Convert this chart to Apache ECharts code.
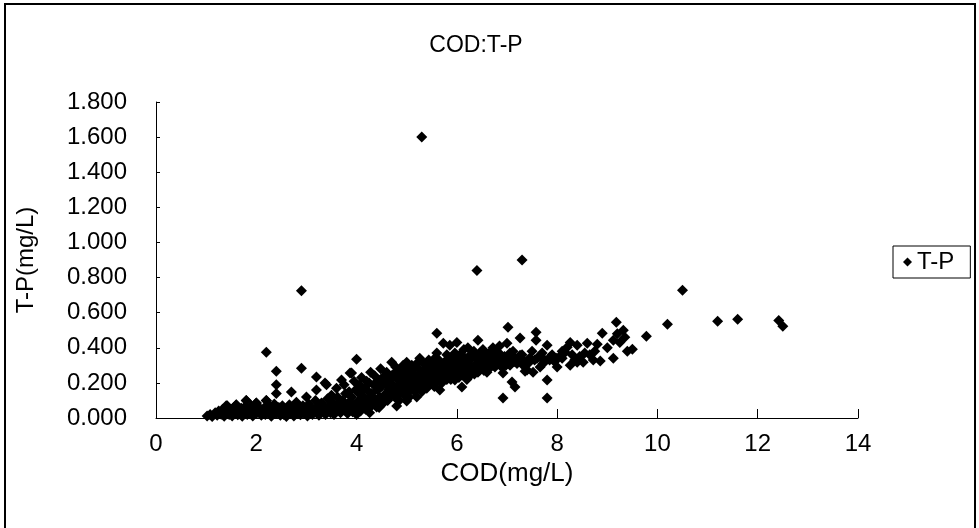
<!DOCTYPE html>
<html>
<head>
<meta charset="utf-8">
<script src="https://cdn.jsdelivr.net/npm/echarts@6/dist/echarts.min.js"></script>
<style>
html,body{margin:0;padding:0;background:#fff;}
#chart{width:979px;height:528px;}
</style>
</head>
<body>
<div id="chart"></div>
<script>
var titleText = 'COD:T-P';
var seriesName = 'T-P';
var xName = 'COD(mg/L)';
var yName = 'T-P(mg/L)';
var xTicks = [0, 2, 4, 6, 8, 10, 12, 14];
var yTicks = [0, 0.2, 0.4, 0.6, 0.8, 1.0, 1.2, 1.4, 1.6, 1.8];

// [COD, T-P] pairs
var lowBand = [
 [1.02,0.012],[1.08,0.02],[1.12,0.008],[1.18,0.03],[1.22,0.015],[1.25,0.04],[1.3,0.022],[1.33,0.05],[1.36,0.01],[1.4,0.035],
 [1.42,0.07],[1.46,0.02],[1.5,0.045],[1.52,0.012],[1.55,0.06],[1.58,0.03],[1.6,0.075],[1.63,0.018],[1.66,0.042],[1.7,0.055],
 [1.72,0.01],[1.75,0.03],[1.78,0.065],[1.8,0.1],[1.82,0.02],[1.85,0.045],[1.88,0.035],[1.9,0.07],[1.93,0.012],[1.96,0.05],
 [2.0,0.085],[2.0,0.025],[2.03,0.04],[2.06,0.06],[2.1,0.015],[2.12,0.035],[2.15,0.055],[2.18,0.02],[2.2,0.1],[2.22,0.045],
 [2.25,0.03],[2.28,0.065],[2.3,0.01],[2.33,0.05],[2.36,0.08],[2.4,0.025],[2.42,0.045],[2.45,0.06],[2.48,0.015],
 [2.5,0.035],[2.52,0.07],[2.55,0.02],[2.58,0.05],[2.6,0.008],[2.63,0.04],[2.66,0.075],[2.7,0.025],[2.72,0.055],[2.75,0.012],
 [2.78,0.045],[2.8,0.09],[2.82,0.03],[2.85,0.06],[2.88,0.018],[2.9,0.04],[2.93,0.07],[2.96,0.025],[3.0,0.05],[3.02,0.012],
 [3.05,0.08],[3.08,0.035],[3.1,0.06],[3.12,0.02],[3.15,0.045],[3.18,0.1],[3.2,0.03],[3.22,0.065],[3.25,0.015],[3.28,0.05],
 [3.3,0.085],[3.32,0.035],[3.35,0.06],[3.38,0.02],[3.4,0.045],[3.42,0.11],[3.45,0.07],[3.48,0.03],[3.5,0.055],[3.52,0.09],
 [3.55,0.02],[3.58,0.065],[3.6,0.04],[3.62,0.12],[3.65,0.08],[3.68,0.03],[3.7,0.055],[3.72,0.1],[3.75,0.045],[3.78,0.14],
 [3.8,0.07],[3.82,0.025],[3.85,0.09],[3.88,0.05],[3.9,0.12],[3.92,0.035],[3.95,0.075],[3.98,0.16]
];
var lowScatter = [
 [1.4,0.07],[1.6,0.074],[1.8,0.1],[2.0,0.085],[2.2,0.1],[2.2,0.375],[2.4,0.267],[2.4,0.19],[2.4,0.14],[2.7,0.148],
 [2.9,0.284],[3.0,0.12],[3.2,0.233],[3.2,0.16],[3.37,0.2],[3.4,0.19],[3.7,0.216],[3.87,0.256],[3.9,0.256],[4.0,0.335],
 [3.5,0.13],[3.6,0.17],[3.75,0.19],[3.85,0.15],[3.95,0.21]
];
var midBand = [
 [4.0,0.02],[4.02,0.06],[4.04,0.1],[4.05,0.14],[4.06,0.19],[4.08,0.04],[4.1,0.23],[4.12,0.08],[4.14,0.12],[4.16,0.17],
 [4.18,0.05],[4.2,0.21],[4.22,0.1],[4.24,0.15],[4.26,0.03],[4.28,0.26],[4.3,0.07],[4.32,0.12],[4.34,0.19],[4.36,0.24],
 [4.38,0.09],[4.4,0.063],[4.42,0.16],[4.44,0.21],[4.46,0.12],[4.48,0.28],[4.5,0.08],[4.5,0.18],[4.52,0.23],
 [4.55,0.13],[4.58,0.2],[4.6,0.26],[4.62,0.1],[4.64,0.16],[4.66,0.22],[4.7,0.318],[4.7,0.14],[4.72,0.19],[4.74,0.25],
 [4.76,0.12],[4.78,0.29],[4.8,0.068],[4.8,0.17],[4.82,0.22],[4.84,0.27],[4.86,0.14],[4.88,0.2],[4.9,0.24],[4.93,0.3],
 [4.94,0.16],[4.96,0.21],[4.98,0.26],
 [5.0,0.097],[5.0,0.318],[5.0,0.14],[5.02,0.19],[5.04,0.23],[5.06,0.28],[5.08,0.17],[5.1,0.3],[5.12,0.21],[5.14,0.25],
 [5.16,0.15],[5.18,0.29],[5.2,0.12],[5.2,0.2],[5.22,0.24],[5.24,0.28],[5.26,0.17],[5.26,0.34],[5.3,0.22],[5.32,0.26],
 [5.34,0.31],[5.36,0.19],[5.38,0.23],[5.4,0.28],[5.42,0.2],[5.44,0.33],[5.46,0.25],[5.48,0.3],
 [5.5,0.2],[5.52,0.22],[5.54,0.27],[5.56,0.34],[5.58,0.24],[5.6,0.483],[5.6,0.37],[5.6,0.3],[5.62,0.21],[5.64,0.33],
 [5.66,0.16],[5.66,0.26],[5.7,0.29],[5.73,0.426],[5.74,0.23],[5.76,0.32],[5.78,0.27],[5.8,0.36],[5.82,0.24],[5.84,0.3],
 [5.86,0.415],[5.88,0.22],[5.9,0.28],[5.92,0.34],[5.94,0.25],[5.96,0.216],[5.96,0.37],[5.98,0.3],
 [6.0,0.43],[6.0,0.27],[6.02,0.33],[6.04,0.23],[6.06,0.36],[6.08,0.29],[6.1,0.176],[6.12,0.31],[6.14,0.39],[6.16,0.25],
 [6.18,0.34],[6.2,0.28],[6.22,0.4],[6.24,0.3],[6.26,0.24],[6.28,0.36],[6.3,0.358],[6.32,0.27],[6.34,0.38],[6.36,0.3],
 [6.38,0.34],[6.42,0.443],[6.42,0.26],[6.44,0.32],[6.46,0.37],[6.48,0.29],
 [6.5,0.34],[6.52,0.39],[6.54,0.27],[6.56,0.31],[6.58,0.36],[6.6,0.34],[6.62,0.3],[6.64,0.28],[6.66,0.33],[6.72,0.4],
 [6.72,0.3],[6.74,0.36],[6.75,0.38],[6.76,0.29],[6.8,0.375],[6.82,0.33],[6.85,0.41],[6.86,0.3],[6.88,0.35],[6.9,0.318],
 [6.92,0.256],[6.92,0.114],[6.95,0.35],[6.98,0.3]
];
var midFill = [
 [4.1,0.16],[4.15,0.09],[4.25,0.2],[4.3,0.14],[4.35,0.1],[4.45,0.06],[4.55,0.09],[4.6,0.19],[4.65,0.12],[4.7,0.24],
 [4.75,0.17],[4.85,0.1],[4.9,0.2],[4.95,0.13],[5.05,0.12],[5.1,0.24],[5.15,0.19],[5.2,0.31],[5.25,0.22],[5.3,0.15],
 [5.35,0.25],[5.4,0.17],[5.45,0.21],[5.5,0.3],[5.55,0.18],[5.6,0.25],[5.65,0.31],[5.7,0.2],[5.75,0.27],[5.8,0.22],
 [5.85,0.26],[5.9,0.33],[5.95,0.28],[6.05,0.26],[6.1,0.34],[6.15,0.29],[6.2,0.22],[6.25,0.33],[6.3,0.29],[6.35,0.25],
 [6.4,0.31],[6.45,0.27],[6.5,0.3],[6.55,0.35],[6.6,0.26],[6.65,0.37],[6.7,0.32],[6.78,0.33],[6.84,0.37],[6.9,0.29]
];
var highBand = [
 [7.0,0.426],[7.02,0.517],[7.05,0.33],[7.06,0.37],[7.06,0.3],[7.1,0.205],[7.12,0.38],[7.16,0.34],[7.16,0.176],[7.2,0.31],
 [7.26,0.455],[7.26,0.358],[7.3,0.36],[7.35,0.32],[7.36,0.267],[7.4,0.273],[7.45,0.34],[7.5,0.38],[7.52,0.26],[7.58,0.489],
 [7.58,0.443],[7.6,0.34],[7.66,0.29],[7.7,0.37],[7.75,0.33],[7.8,0.415],[7.8,0.216],[7.8,0.114],[7.86,0.347],[7.9,0.36],
 [7.95,0.32],[8.0,0.29],[8.05,0.35],[8.1,0.34],[8.1,0.38],[8.16,0.375],[8.2,0.403],[8.26,0.3],[8.26,0.43],[8.3,0.36],
 [8.35,0.33],[8.4,0.415],[8.4,0.318],[8.45,0.35],[8.52,0.318],[8.55,0.37],[8.6,0.426],[8.65,0.36],[8.72,0.33],[8.75,0.38],
 [8.8,0.42],[8.86,0.324],[8.9,0.483],[9.0,0.4],[9.12,0.443],[9.12,0.34],[9.18,0.545],[9.2,0.48],[9.25,0.43],[9.32,0.5],
 [9.35,0.46],[9.4,0.38],[9.5,0.392],[9.78,0.466],[10.2,0.534],[11.2,0.551],[11.6,0.5625],[12.42,0.555],[12.5,0.523],
 [7.04,0.35],[7.14,0.32],[7.22,0.34],[7.32,0.3],[7.42,0.31],[7.55,0.33],[7.65,0.35],[7.72,0.31],[7.85,0.33],[7.98,0.34]
];
var outliers = [
 [2.9,0.725],[5.3,1.6],[6.4,0.84],[7.3,0.9],[10.5,0.727]
];

var allPoints = lowBand.concat(lowScatter, midBand, midFill, highBand, outliers);
var FONT = '"Liberation Sans", Arial, sans-serif';

var chart = echarts.init(document.getElementById('chart'), null, {renderer: 'canvas'});
chart.setOption({
  animation: false,
  backgroundColor: '#fff',
  title: {
    text: titleText,
    left: 471,
    top: 29,
    textAlign: 'center',
    textStyle: {fontFamily: FONT, fontSize: 23, fontWeight: 'normal', color: '#000'}
  },
  legend: {
    data: [seriesName],
    left: 893,
    top: 246,
    icon: 'diamond',
    itemWidth: 9,
    itemHeight: 9,
    borderColor: '#000',
    borderWidth: 1,
    borderRadius: 0,
    padding: [4, 16, 4, 10],
    textStyle: {fontFamily: FONT, fontSize: 24, color: '#000'}
  },
  graphic: [{
    type: 'rect',
    silent: true,
    shape: {x: 5, y: 4, width: 970, height: 530},
    style: {fill: 'none', stroke: '#000', lineWidth: 2}
  }],
  grid: {left: 156, top: 102, width: 702, height: 316},
  xAxis: {
    type: 'value',
    min: xTicks[0],
    max: xTicks[xTicks.length - 1],
    interval: 2,
    name: xName,
    nameLocation: 'middle',
    nameGap: 37,
    nameTextStyle: {fontFamily: FONT, fontSize: 26, color: '#000'},
    axisLine: {show: true, lineStyle: {color: '#000', width: 1}},
    axisTick: {show: true, inside: true, length: 9, lineStyle: {color: '#000'}},
    axisLabel: {fontFamily: FONT, fontSize: 24, color: '#000', margin: 14},
    splitLine: {show: false}
  },
  yAxis: {
    type: 'value',
    min: yTicks[0],
    max: yTicks[yTicks.length - 1],
    interval: 0.2,
    name: yName,
    nameLocation: 'middle',
    nameGap: 118,
    nameRotate: 90,
    nameTextStyle: {fontFamily: FONT, fontSize: 24, color: '#000'},
    axisLine: {show: true, lineStyle: {color: '#000', width: 1}},
    axisTick: {show: true, inside: true, length: 4, lineStyle: {color: '#000'}},
    axisLabel: {fontFamily: FONT, fontSize: 24, color: '#000', margin: 29,
      formatter: function (v) { return v.toFixed(3); }},
    splitLine: {show: false}
  },
  series: [{
    name: seriesName,
    type: 'scatter',
    symbol: 'diamond',
    symbolSize: 11,
    itemStyle: {color: '#000', opacity: 1},
    data: allPoints
  }]
});
</script>
</body>
</html>
